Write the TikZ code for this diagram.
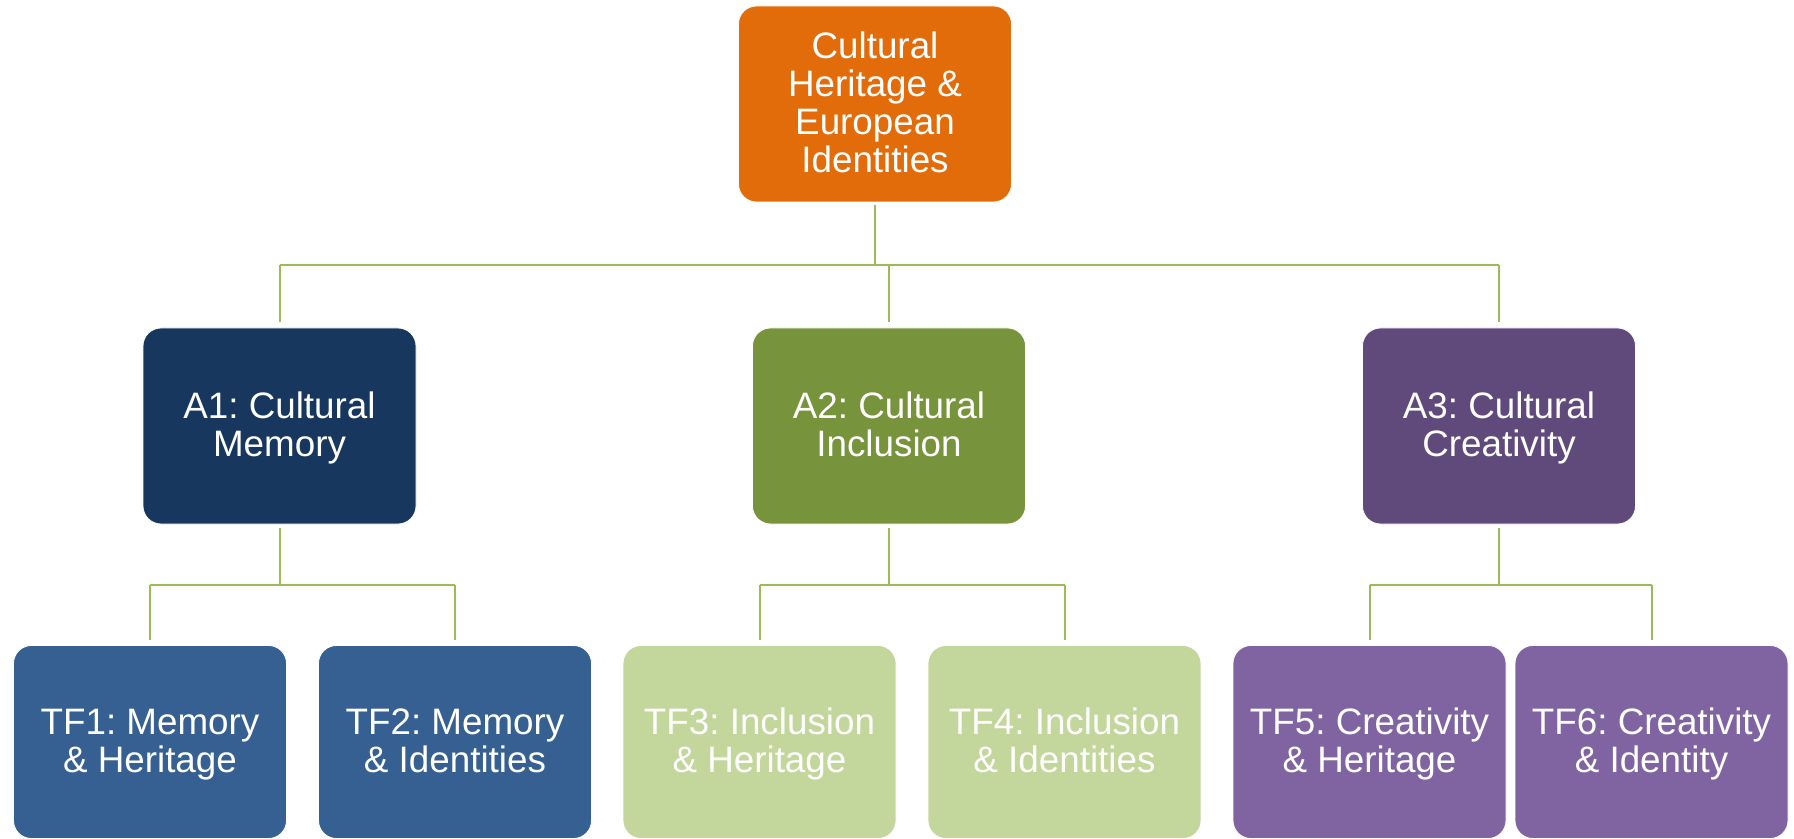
\documentclass[tikz,border=0pt]{standalone}
\usepackage{fontspec}
\setmainfont{Liberation Sans}
\frenchspacing
\definecolor{cOrange}{HTML}{E36C0A}
\definecolor{cNavy}{HTML}{17375E}
\definecolor{cOlive}{HTML}{77933C}
\definecolor{cPlum}{HTML}{604A7B}
\definecolor{cBlue}{HTML}{366092}
\definecolor{cLime}{HTML}{C3D69B}
\definecolor{cLav}{HTML}{8064A2}
\definecolor{cLine}{HTML}{9BBB59}
\newcommand{\hstr}{\rule{0pt}{15.9pt}}
\newcommand{\dstr}{\rule[-4pt]{0pt}{4pt}}
\tikzset{
  box/.style={rounded corners=9pt, draw=white, line width=0.4pt, text=white,
    align=center, inner sep=0pt, minimum width=136.5pt,
    font=\fontsize{18.4}{19}\selectfont},
  topbox/.style={box, minimum height=98pt},
  tfbox/.style={box, minimum height=96.5pt},
  conn/.style={draw=cLine, line width=1pt}
}
\begin{document}
\begin{tikzpicture}[x=0.5pt,y=-0.5pt]
\useasboundingbox (0,0) rectangle (1794,839);
% nodes
\node[topbox, fill=cOrange] (top) at (875,104) {\hstr Cultural\\Heritage \&\\European\\Identities\dstr};
\node[topbox, fill=cNavy] (A1) at (279.5,426) {\hstr A1: Cultural\\Memory\dstr};
\node[topbox, fill=cOlive] (A2) at (889,426) {\hstr A2: Cultural\\Inclusion\dstr};
\node[topbox, fill=cPlum] (A3) at (1499,426) {\hstr A3: Cultural\\Creativity\dstr};
\node[tfbox, fill=cBlue] (TF1) at (150,742) {\hstr TF1: Memory\\\& Heritage\dstr};
\node[tfbox, fill=cBlue] (TF2) at (455,742) {\hstr TF2: Memory\\\& Identities\dstr};
\node[tfbox, fill=cLime] (TF3) at (759.5,742) {\hstr TF3: Inclusion\\\& Heritage\dstr};
\node[tfbox, fill=cLime] (TF4) at (1064.5,742) {\hstr TF4: Inclusion\\\& Identities\dstr};
\node[tfbox, fill=cLav] (TF5) at (1369.5,742) {\hstr TF5: Creativity\\\& Heritage\dstr};
\node[tfbox, fill=cLav] (TF6) at (1651.5,742) {\hstr TF6: Creativity\\\& Identity\dstr};
% level 1 connectors
\draw[conn] ([yshift=-1.5pt]top.south) -- (top.south |- 0,265);
\draw[conn] (A1.north |- 0,265) -- (A3.north |- 0,265);
\foreach \n in {A1,A2,A3}
  \draw[conn] (\n.north |- 0,265) -- ([yshift=3pt]\n.north);
% level 2 connectors
\draw[conn] ([yshift=-2pt]A1.south) -- (A1.south |- 0,585);
\draw[conn] (TF1.north |- 0,585) -- (TF2.north |- 0,585);
\draw[conn] ([yshift=-2pt]A2.south) -- (A2.south |- 0,585);
\draw[conn] (TF3.north |- 0,585) -- (TF4.north |- 0,585);
\draw[conn] ([yshift=-2pt]A3.south) -- (A3.south |- 0,585);
\draw[conn] (TF5.north |- 0,585) -- (TF6.north |- 0,585);
\foreach \n in {TF1,TF2,TF3,TF4,TF5,TF6}
  \draw[conn] (\n.north |- 0,585) -- ([yshift=2.5pt]\n.north);
\end{tikzpicture}
\end{document}
